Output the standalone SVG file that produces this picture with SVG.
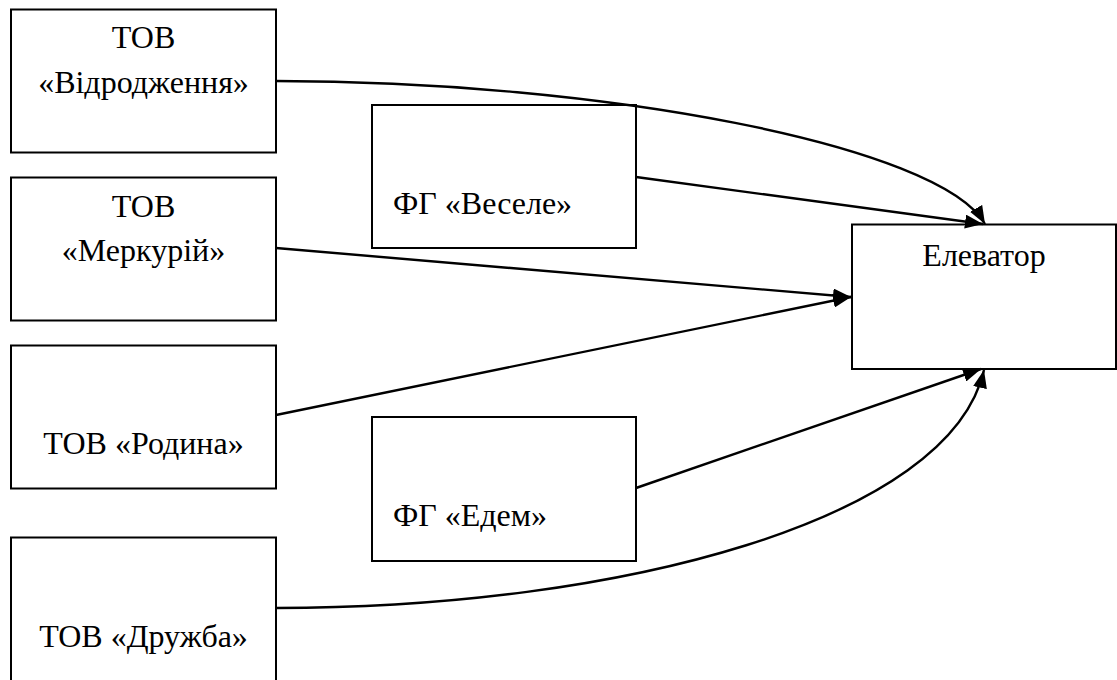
<svg xmlns="http://www.w3.org/2000/svg" width="1117" height="680" viewBox="0 0 1117 680">
<style>
.box{fill:#fff;stroke:#000;stroke-width:2}
.conn{fill:none;stroke:#000;stroke-width:2.4}
.t{font-family:"Liberation Serif","Times New Roman",serif;font-size:32px;fill:#000}
.c{text-anchor:middle}
</style>
<defs>
<marker id="arr" viewBox="0 0 18 14" refX="18" refY="7" markerWidth="18" markerHeight="14" markerUnits="userSpaceOnUse" orient="auto">
<path d="M0,0 L18,7 L0,14 Z" fill="#000"/>
</marker>
</defs>
<rect width="1117" height="680" fill="#fff"/>
<g id="n1"><rect class="box" x="11" y="9.5" width="265" height="143"/><text class="t c" x="143.5" y="48">ТОВ</text><text class="t c" x="143.5" y="92.5">«Відродження»</text></g>
<g id="n2"><rect class="box" x="11" y="177.5" width="265" height="143"/><text class="t c" x="143.5" y="216.5">ТОВ</text><text class="t c" x="143.5" y="261">«Меркурій»</text></g>
<g id="n3"><rect class="box" x="11" y="345.5" width="265" height="143"/><text class="t c" x="143.5" y="454">ТОВ «Родина»</text></g>
<g id="n4"><rect class="box" x="11" y="537.5" width="265" height="150"/><text class="t c" x="143.5" y="647">ТОВ «Дружба»</text></g>
<g id="n5"><rect class="box" x="372" y="105" width="264" height="143"/><text class="t" x="393" y="214">ФГ «Веселе»</text></g>
<g id="n6"><rect class="box" x="372" y="417" width="264" height="144"/><text class="t" x="393" y="526">ФГ «Едем»</text></g>
<g id="n7"><rect class="box" x="852" y="224.5" width="264" height="144.5"/><text class="t c" x="984" y="266">Елеватор</text></g>
<g id="connectors">
<path class="conn" marker-end="url(#arr)" d="M276,81 C600,81 940,145 985,224"/>
<path class="conn" marker-end="url(#arr)" d="M636,177 L983,224"/>
<path class="conn" marker-end="url(#arr)" d="M276,248 L851,297"/>
<path class="conn" marker-end="url(#arr)" d="M276,415 L851,297"/>
<path class="conn" marker-end="url(#arr)" d="M636,488 L981,369"/>
<path class="conn" marker-end="url(#arr)" d="M276,608 C620,608 950,520 984,370"/>
</g>
</svg>
